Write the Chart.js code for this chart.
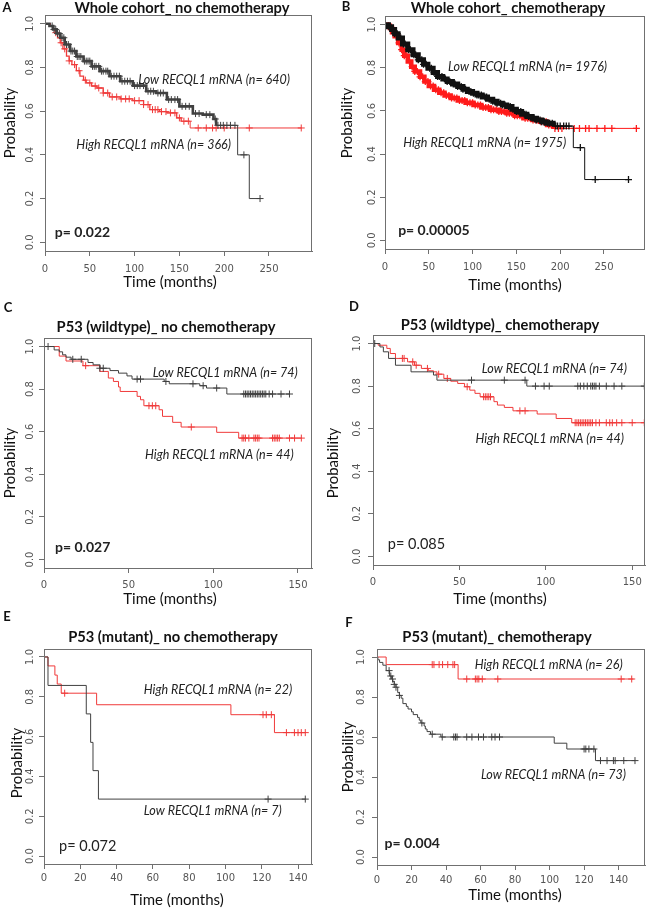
<!DOCTYPE html>
<html>
<head>
<meta charset="utf-8">
<script src="https://cdn.jsdelivr.net/npm/chart.js@4.4.1/dist/chart.umd.min.js"></script>
<style>
  body { margin: 0; background: #fff; }
  #fig { position: relative; width: 650px; height: 908px; overflow: hidden; }
  .panel { position: absolute; }
</style>
</head>
<body>
<div id="fig">
  <div class="panel" style="left:0;top:0;width:325px;height:305px"><canvas id="cA"></canvas></div>
  <div class="panel" style="left:325px;top:0;width:325px;height:305px"><canvas id="cB"></canvas></div>
  <div class="panel" style="left:0;top:300px;width:325px;height:308px"><canvas id="cC"></canvas></div>
  <div class="panel" style="left:325px;top:300px;width:325px;height:308px"><canvas id="cD"></canvas></div>
  <div class="panel" style="left:0;top:600px;width:325px;height:308px"><canvas id="cE"></canvas></div>
  <div class="panel" style="left:325px;top:600px;width:325px;height:308px"><canvas id="cF"></canvas></div>
</div>
<script>
// ---- data (months, survival probability) ----
const yTicks = [0, 0.2, 0.4, 0.6, 0.8, 1.0];
const yTickLabels = ['0.0', '0.2', '0.4', '0.6', '0.8', '1.0'];
const xTicksLong = [0, 50, 100, 150, 200, 250];
const xTicksMid = [0, 50, 100, 150];
const xTicksShort = [0, 20, 40, 60, 80, 100, 120, 140];

// A: whole cohort, no chemotherapy
const aLowTime = [0, 5, 9, 13, 17, 22, 28, 35, 43, 52, 61, 72, 84, 98, 113, 124, 136, 150, 165, 176, 188, 191, 215, 228, 240];
const aLowSurv = [1, 0.99, 0.974, 0.955, 0.936, 0.905, 0.875, 0.85, 0.829, 0.805, 0.783, 0.76, 0.737, 0.717, 0.691, 0.683, 0.653, 0.622, 0.589, 0.584, 0.564, 0.535, 0.40, 0.20, 0.20];
const aLowCensor = [8, 10, 12, 14, 16, 19, 21, 24, 26, 29, 31, 33, 36, 38, 40, 44, 46, 48, 50, 53, 55, 57, 60, 63, 65, 68, 70, 74, 77, 80, 83, 86, 89, 92, 95, 100, 103, 106, 110, 115, 118, 121, 126, 129, 132, 138, 141, 145, 148, 153, 157, 161, 168, 172, 180, 184, 190, 193, 196, 199, 203, 207, 212, 222, 240];
const aHighTime = [0, 6, 9, 11, 14, 17, 20, 24, 27, 30, 35, 39, 43, 46, 52, 58, 65, 72, 84, 98, 110, 117, 128, 136, 147, 152, 162, 286];
const aHighSurv = [1, 0.99, 0.975, 0.959, 0.935, 0.913, 0.885, 0.852, 0.83, 0.813, 0.785, 0.76, 0.742, 0.729, 0.715, 0.706, 0.683, 0.665, 0.656, 0.648, 0.63, 0.607, 0.598, 0.592, 0.569, 0.554, 0.523, 0.523];
const aHighCensor = [12, 18, 22, 27, 33, 38, 45, 50, 56, 60, 65, 70, 75, 80, 85, 90, 94, 100, 105, 110, 115, 120, 123, 126, 130, 135, 140, 145, 150, 155, 160, 171, 180, 187, 191, 200, 228, 286];

// B: whole cohort, chemotherapy
const bLowTime = [0, 4, 7.5, 11, 15, 20, 26, 32, 38, 44, 49, 55, 60, 66, 71, 77, 83, 89, 94, 100, 105, 111, 117, 123, 128, 134, 139, 145, 150, 156, 162, 168, 173, 179, 184, 192, 215, 228, 278];
const bLowSurv = [1, 0.99, 0.977, 0.958, 0.938, 0.91, 0.884, 0.86, 0.837, 0.816, 0.798, 0.778, 0.76, 0.748, 0.736, 0.725, 0.713, 0.70, 0.69, 0.682, 0.674, 0.664, 0.654, 0.645, 0.636, 0.628, 0.62, 0.608, 0.597, 0.585, 0.574, 0.566, 0.558, 0.55, 0.543, 0.53, 0.43, 0.282, 0.282];
const bLowCensor = [5, 8, 11, 14, 18, 21, 23, 27, 29, 33, 35, 38, 42, 44, 47, 51, 53, 56, 60, 62, 65, 69, 71, 74, 78, 80, 83, 87, 89, 92, 96, 98, 101, 105, 107, 110, 114, 116, 119, 123, 125, 128, 132, 134, 137, 141, 143, 146, 150, 152, 155, 159, 161, 164, 168, 170, 173, 177, 179, 182, 186, 188, 191, 195, 197, 200, 204, 207, 210, 223, 240, 278];
const bHighTime = [0, 3, 5.6, 8, 11, 15, 19, 22, 26, 30, 34, 40, 45, 50, 56, 62, 68, 75, 83, 92, 101, 110, 120, 130, 139, 148, 158, 168, 177, 185, 192, 288];
const bHighSurv = [1, 0.995, 0.984, 0.965, 0.946, 0.915, 0.884, 0.856, 0.829, 0.805, 0.783, 0.758, 0.736, 0.716, 0.698, 0.684, 0.671, 0.66, 0.648, 0.638, 0.628, 0.616, 0.605, 0.597, 0.589, 0.578, 0.566, 0.558, 0.55, 0.535, 0.519, 0.519];
const bHighCensor = [4, 7, 10, 13, 16, 19, 22, 25, 28, 31, 34, 37, 40, 43, 46, 49, 52, 55, 58, 61, 64, 67, 70, 73, 76, 79, 82, 85, 88, 91, 94, 97, 100, 103, 106, 109, 112, 115, 118, 121, 124, 127, 130, 133, 136, 139, 142, 145, 148, 151, 154, 157, 160, 163, 166, 169, 172, 175, 178, 181, 184, 187, 190, 194, 198, 202, 216, 222, 229, 233, 242, 251, 259, 287];

// C: P53 wildtype, no chemotherapy
const cLowTime = [0, 6, 9, 11, 13, 16, 26, 29, 33, 39, 44, 49, 52, 71, 74, 92, 96, 108, 145];
const cLowSurv = [1, 0.984, 0.975, 0.961, 0.95, 0.94, 0.925, 0.914, 0.898, 0.887, 0.875, 0.862, 0.847, 0.836, 0.825, 0.816, 0.805, 0.777, 0.777];
const cLowCensor = [2.4, 17, 22, 33, 35, 55, 57, 72, 88, 94, 102, 118, 119, 120, 121, 122, 123, 124, 125, 126, 127, 128, 129, 130, 131, 133, 135, 140, 145];
const cHighTime = [0, 9, 13, 23, 33, 38, 41, 44, 45, 55, 57, 59, 68, 70, 76, 81, 102, 115, 152];
const cHighSurv = [1, 0.955, 0.932, 0.91, 0.883, 0.852, 0.836, 0.81, 0.789, 0.766, 0.75, 0.722, 0.703, 0.672, 0.644, 0.622, 0.597, 0.57, 0.57];
const cHighCensor = [24.6, 62, 64, 66, 87, 117, 118, 119, 121, 124, 125, 126, 127, 135, 136, 137, 138, 139, 145, 148, 152];

// D: P53 wildtype, chemotherapy
const dLowTime = [0, 4, 6, 9, 13, 22, 35, 37, 89, 157];
const dLowSurv = [1, 0.984, 0.961, 0.93, 0.898, 0.867, 0.852, 0.828, 0.80, 0.80];
const dLowCensor = [1, 57, 76, 88, 94, 99, 102, 118.5, 120, 122, 124, 126, 127, 128, 129, 131, 135, 139.5, 144, 157];
const dHighTime = [0, 3, 8, 10, 13, 20, 24, 28, 32, 35, 37, 41, 45, 49, 53, 56, 59, 62, 70, 72, 76, 81, 95, 106, 115, 157];
const dHighSurv = [1, 0.992, 0.977, 0.953, 0.93, 0.914, 0.898, 0.883, 0.872, 0.867, 0.856, 0.836, 0.823, 0.8125, 0.797, 0.781, 0.766, 0.75, 0.727, 0.711, 0.70, 0.684, 0.669, 0.648, 0.628, 0.628];
const dHighCensor = [17, 18, 23, 25, 31.5, 38, 43, 54.5, 64, 65, 66, 67, 68, 85, 88, 117, 118, 119, 120, 121, 122, 123, 124, 125, 126, 127, 129, 131, 135, 137, 138.5, 141, 144, 150, 157];

// E: P53 mutant, no chemotherapy
const eLowTime = [0, 2.2, 23.3, 25.7, 27, 30, 144];
const eLowSurv = [1, 0.857, 0.714, 0.571, 0.429, 0.286, 0.286];
const eLowCensor = [123.5, 144];
const eHighTime = [0, 2.2, 6, 7.3, 9.5, 29, 103, 127, 144];
const eHighSurv = [1, 0.955, 0.909, 0.864, 0.818, 0.76, 0.71, 0.62, 0.62];
const eHighCensor = [11.4, 120.7, 122.5, 125.3, 133.6, 138, 140, 141.8, 144];

// F: P53 mutant, chemotherapy
const fLowTime = [0, 0.5, 1.5, 3.4, 5.3, 7.3, 8.5, 9.2, 10, 11, 12, 13, 14, 15, 17, 18, 20, 21, 23.5, 24.5, 25.4, 27.3, 28, 29, 31, 37, 102.7, 110, 126.6, 149.5];
const fLowSurv = [1, 0.986, 0.973, 0.959, 0.932, 0.905, 0.89, 0.877, 0.863, 0.849, 0.822, 0.808, 0.794, 0.767, 0.753, 0.74, 0.726, 0.712, 0.698, 0.684, 0.67, 0.655, 0.64, 0.627, 0.614, 0.60, 0.569, 0.54, 0.482, 0.482];
const fLowCensor = [7, 8, 9, 10, 11, 13, 26, 32, 37.8, 44.5, 45.5, 46.4, 52, 55, 58.8, 61.7, 66.5, 68.4, 71, 120, 121, 122.8, 125.7, 129.5, 133.3, 137, 138, 143, 149.5];
const fHighTime = [0, 5.3, 47, 148.6];
const fHighSurv = [1, 0.962, 0.89, 0.89];
const fHighCensor = [32, 33, 36, 38, 41, 44, 45, 52, 57, 58, 59, 61, 70, 141.5, 147.6];

// ---- helpers ----
function stepPoints(times, surv) {
  return times.map((t, i) => ({ x: t, y: surv[i] }));
}
// place each censor mark on the curve it belongs to
function censorPoints(censor, times, surv) {
  return censor.map(t => {
    let s = surv[0];
    for (let i = 0; i < times.length; i++) if (times[i] <= t) s = surv[i];
    return { x: t, y: s };
  });
}

const kmDecor = {
  id: 'kmDecor',
  afterDraw(chart, args, o) {
    const ctx = chart.ctx, a = chart.chartArea;
    const xs = chart.scales.x, ys = chart.scales.y;
    ctx.save();
    ctx.strokeStyle = '#707070';
    ctx.lineWidth = 1;
    ctx.strokeRect(Math.round(a.left) + 0.5, Math.round(a.top) + 0.5,
      Math.round(a.right - a.left) - 1, Math.round(a.bottom - a.top));

    ctx.fillStyle = '#555';
    ctx.font = '10px "DejaVu Sans", sans-serif';
    ctx.textAlign = 'center';
    ctx.textBaseline = 'middle';
    yTicks.forEach((v, i) => {
      ctx.save();
      ctx.translate(o.yLabX - o.left, ys.getPixelForValue(v));
      ctx.rotate(-Math.PI / 2);
      ctx.fillText(yTickLabels[i], 0, 0);
      ctx.restore();
    });
    o.xTicks.forEach(v => ctx.fillText(String(v), xs.getPixelForValue(v), o.xLabY - o.top));

    ctx.fillStyle = '#111';
    o.texts.forEach(t => {
      ctx.save();
      ctx.font = t.font;
      ctx.textAlign = t.align || 'center';
      ctx.translate(t.x - o.left, t.y - o.top);
      if (t.rot) ctx.rotate(-Math.PI / 2);
      ctx.fillText(t.text, 0, 0);
      ctx.restore();
    });
    ctx.fillStyle = '#222';
    o.notes.forEach(n => {
      ctx.font = n.font;
      ctx.textAlign = 'left';
      ctx.fillText(n.text, xs.getPixelForValue(n.t), ys.getPixelForValue(n.p));
    });
    ctx.restore();
  }
};

const FT = 'bold 14.7px Lato, sans-serif';
const FL = 'bold 13px Lato, sans-serif';
const FA = '15px Lato, sans-serif';
const FN = 'italic 12.5px Lato, sans-serif';
const FPB = 'bold 14px Lato, sans-serif';
const FP = '14.5px Lato, sans-serif';

function makePanel(id, p) {
  const black = p.dense ? '#111' : '#404040';
  const red = p.dense ? '#ff1a1a' : '#f03a3a';
  // the heavily censored curves read as a thick band up to the last dense marks
  const band = (until, w) => ({ borderWidth: c => (c.p1.parsed.x <= until ? w : 1) });
  new Chart(document.getElementById(id), {
    type: 'line',
    data: {
      datasets: [
        { data: stepPoints(p.lowT, p.lowS), borderColor: black, borderWidth: 1, segment: band(p.lowBand[0], p.lowBand[1]), stepped: 'before', pointRadius: 0, fill: false },
        { data: censorPoints(p.lowC, p.lowT, p.lowS), borderColor: black, showLine: false, pointStyle: 'cross', pointRadius: 3.5, pointBorderWidth: p.dense ? 1.3 : 1 },
        { data: stepPoints(p.highT, p.highS), borderColor: red, borderWidth: 1, segment: band(p.highBand[0], p.highBand[1]), stepped: 'before', pointRadius: 0, fill: false },
        { data: censorPoints(p.highC, p.highT, p.highS), borderColor: red, showLine: false, pointStyle: 'cross', pointRadius: 3.5, pointBorderWidth: p.dense ? 1.3 : 1 }
      ]
    },
    options: {
      responsive: true,
      maintainAspectRatio: false,
      animation: false,
      events: [],
      layout: { padding: { top: p.T - p.top, right: p.left + 325 - p.R, left: 0, bottom: 0 } },
      plugins: {
        legend: { display: false },
        tooltip: { enabled: false },
        kmDecor: { left: p.left, top: p.top, xTicks: p.xTicks, xLabY: p.xLabY, yLabX: p.yLabX, texts: p.texts, notes: p.notes }
      },
      scales: {
        x: {
          type: 'linear', min: 0, max: p.xMax,
          afterBuildTicks: s => { s.ticks = p.xTicks.map(v => ({ value: v })); },
          ticks: { display: false },
          grid: { drawOnChartArea: false, color: '#707070', tickLength: 5 },
          border: { color: '#707070' },
          afterFit: s => { s.height = p.top + p.h - p.B; s.paddingLeft = 0; s.paddingRight = 0; }
        },
        y: {
          type: 'linear', min: -0.04, max: 1.04,
          afterBuildTicks: s => { s.ticks = yTicks.map(v => ({ value: v })); },
          ticks: { display: false },
          grid: { drawOnChartArea: false, color: '#707070', tickLength: 5 },
          border: { color: '#707070' },
          afterFit: s => { s.width = p.L - p.left; s.paddingTop = 0; s.paddingBottom = 0; }
        }
      }
    },
    plugins: [kmDecor]
  });
}

const noBand = [0, 1];

makePanel('cA', {
  left: 0, top: 0, h: 305, L: 45, R: 312, T: 15, B: 251, xMax: 298, dense: false,
  lowBand: [191, 2.6], highBand: [160, 1.3],
  xTicks: xTicksLong, xLabY: 269, yLabX: 30,
  lowT: aLowTime, lowS: aLowSurv, lowC: aLowCensor, highT: aHighTime, highS: aHighSurv, highC: aHighCensor,
  texts: [
    { text: 'A', x: 7, y: 8, font: FL },
    { text: 'Whole cohort_ no chemotherapy', x: 182, y: 8, font: FT },
    { text: 'Probability', x: 10, y: 123, font: FA, rot: true },
    { text: 'Time (months)', x: 170, y: 282, font: FA }
  ],
  notes: [
    { text: 'Low RECQL1 mRNA (n= 640)', t: 104, p: 0.743, font: FN },
    { text: 'High RECQL1 mRNA (n= 366)', t: 35, p: 0.445, font: FN },
    { text: 'p= 0.022', t: 11, p: 0.046, font: FPB }
  ]
});

makePanel('cB', {
  left: 325, top: 0, h: 305, L: 385, R: 648, T: 16, B: 249, xMax: 296.5, dense: true,
  lowBand: [200, 5], highBand: [192, 4.5],
  xTicks: xTicksLong, xLabY: 267, yLabX: 372,
  lowT: bLowTime, lowS: bLowSurv, lowC: bLowCensor, highT: bHighTime, highS: bHighSurv, highC: bHighCensor,
  texts: [
    { text: 'B', x: 346, y: 7, font: FL },
    { text: 'Whole cohort_ chemotherapy', x: 508, y: 8, font: FT },
    { text: 'Probability', x: 347, y: 123, font: FA, rot: true },
    { text: 'Time (months)', x: 515, y: 285, font: FA }
  ],
  notes: [
    { text: 'Low RECQL1 mRNA (n= 1976)', t: 72, p: 0.806, font: FN },
    { text: 'High RECQL1 mRNA (n= 1975)', t: 20.7, p: 0.45, font: FN },
    { text: 'p= 0.00005', t: 15, p: 0.047, font: FPB }
  ]
});

makePanel('cC', {
  left: 0, top: 300, h: 308, L: 44, R: 312, T: 338, B: 568, xMax: 158.3, dense: false,
  lowBand: noBand, highBand: noBand,
  xTicks: xTicksMid, xLabY: 585, yLabX: 30,
  lowT: cLowTime, lowS: cLowSurv, lowC: cLowCensor, highT: cHighTime, highS: cHighSurv, highC: cHighCensor,
  texts: [
    { text: 'C', x: 8, y: 308, font: FL },
    { text: 'P53 (wildtype)_ no chemotherapy', x: 166, y: 327, font: FT },
    { text: 'Probability', x: 10, y: 463, font: FA, rot: true },
    { text: 'Time (months)', x: 170, y: 599, font: FA }
  ],
  notes: [
    { text: 'Low RECQL1 mRNA (n= 74)', t: 64.2, p: 0.875, font: FN },
    { text: 'High RECQL1 mRNA (n= 44)', t: 59.7, p: 0.492, font: FN },
    { text: 'p= 0.027', t: 6.5, p: 0.055, font: FPB }
  ]
});

makePanel('cD', {
  left: 325, top: 300, h: 308, L: 373, R: 648, T: 335, B: 565, xMax: 157.4, dense: false,
  lowBand: noBand, highBand: noBand,
  xTicks: xTicksMid, xLabY: 582, yLabX: 357,
  lowT: dLowTime, lowS: dLowSurv, lowC: dLowCensor, highT: dHighTime, highS: dHighSurv, highC: dHighCensor,
  texts: [
    { text: 'D', x: 354, y: 307, font: FL },
    { text: 'P53 (wildtype)_ chemotherapy', x: 500, y: 325, font: FT },
    { text: 'Probability', x: 333, y: 463, font: FA, rot: true },
    { text: 'Time (months)', x: 500, y: 599, font: FA }
  ],
  notes: [
    { text: 'Low RECQL1 mRNA (n= 74)', t: 63, p: 0.88, font: FN },
    { text: 'High RECQL1 mRNA (n= 44)', t: 59.3, p: 0.552, font: FN },
    { text: 'p= 0.085', t: 8.6, p: 0.055, font: FP }
  ]
});

makePanel('cE', {
  left: 0, top: 600, h: 308, L: 44, R: 312, T: 649, B: 864, xMax: 147.7, dense: false,
  lowBand: noBand, highBand: noBand,
  xTicks: xTicksShort, xLabY: 878, yLabX: 30,
  lowT: eLowTime, lowS: eLowSurv, lowC: eLowCensor, highT: eHighTime, highS: eHighSurv, highC: eHighCensor,
  texts: [
    { text: 'E', x: 7, y: 617, font: FL },
    { text: 'P53 (mutant)_ no chemotherapy', x: 173, y: 637, font: FT },
    { text: 'Probability', x: 17, y: 763, font: FA, rot: true },
    { text: 'Time (months)', x: 177, y: 900, font: FA }
  ],
  notes: [
    { text: 'High RECQL1 mRNA (n= 22)', t: 55, p: 0.836, font: FN },
    { text: 'Low RECQL1 mRNA (n= 7)', t: 55, p: 0.227, font: FN },
    { text: 'p= 0.072', t: 8.3, p: 0.047, font: FP }
  ]
});

makePanel('cF', {
  left: 325, top: 600, h: 308, L: 377, R: 648, T: 649, B: 865, xMax: 155.3, dense: false,
  lowBand: noBand, highBand: noBand,
  xTicks: xTicksShort, xLabY: 880, yLabX: 361,
  lowT: fLowTime, lowS: fLowSurv, lowC: fLowCensor, highT: fHighTime, highS: fHighSurv, highC: fHighCensor,
  texts: [
    { text: 'F', x: 349, y: 623, font: FL },
    { text: 'P53 (mutant)_ chemotherapy', x: 497, y: 637, font: FT },
    { text: 'Probability', x: 348, y: 757, font: FA, rot: true },
    { text: 'Time (months)', x: 515, y: 895, font: FA }
  ],
  notes: [
    { text: 'High RECQL1 mRNA (n= 26)', t: 56.6, p: 0.962, font: FN },
    { text: 'Low RECQL1 mRNA (n= 73)', t: 60.2, p: 0.41, font: FN },
    { text: 'p= 0.004', t: 4.4, p: 0.067, font: FPB }
  ]
});
</script>
</body>
</html>
